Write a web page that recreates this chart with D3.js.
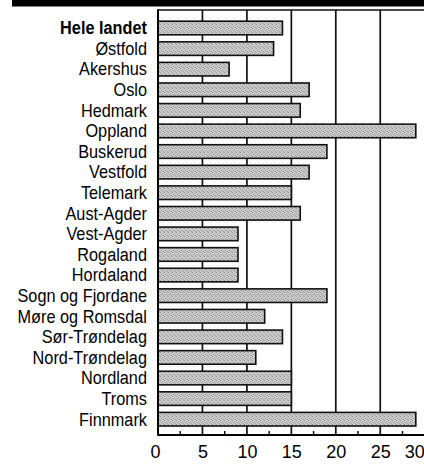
<!DOCTYPE html>
<html>
<head>
<meta charset="utf-8">
<script src="https://cdn.jsdelivr.net/npm/d3@7"></script>
<style>
  html, body { margin: 0; padding: 0; background: #fff; }
  svg { display: block; }
  text { font-family: "Liberation Sans", Arial, Helvetica, sans-serif; fill: #000; }
</style>
</head>
<body>
<div id="chart"></div>
<script>
const categories = ["Hele landet", "Østfold", "Akershus", "Oslo", "Hedmark", "Oppland",
  "Buskerud", "Vestfold", "Telemark", "Aust-Agder", "Vest-Agder", "Rogaland", "Hordaland",
  "Sogn og Fjordane", "Møre og Romsdal", "Sør-Trøndelag", "Nord-Trøndelag", "Nordland",
  "Troms", "Finnmark"];
const values = [14, 13, 8, 17, 16, 29, 19, 17, 15, 16, 9, 9, 9, 19, 12, 14, 11, 15, 15, 29];
const tickValues = [0, 5, 10, 15, 20, 25, 30];
const gridValues = [5, 10, 15, 20, 25];
const minorTicks = [2.5, 7.5, 12.5, 17.5, 22.5, 27.5];

const W = 424, H = 466;
const svg = d3.select("#chart").append("svg").attr("width", W).attr("height", H);

// mottled gray fill (printed screen look)
const defs = svg.append("defs");
const pat = defs.append("pattern").attr("id", "dither").attr("patternUnits", "userSpaceOnUse")
  .attr("width", 4).attr("height", 4);
pat.append("rect").attr("width", 4).attr("height", 4).attr("fill", "#cfcfcf");
[[0,0,"#8e8e8e"],[2,1,"#9c9c9c"],[1,2,"#929292"],[3,3,"#a0a0a0"],[2,3,"#b4b4b4"],[0,2,"#bcbcbc"],[3,0,"#b8b8b8"],[1,1,"#e2e2e2"]]
  .forEach(([px, py, c]) => pat.append("rect").attr("x", px).attr("y", py).attr("width", 1).attr("height", 1).attr("fill", c));

const x = d3.scaleLinear().domain([0, 30]).range([158, 424.7]);
const y = d3.scaleBand().domain(categories).range([17.7, 429.5]).paddingInner(0.34).paddingOuter(0.17);

const plotTop = 10, plotBottom = 435;

// top black band
svg.append("rect").attr("x", 12).attr("y", 0).attr("width", W - 12).attr("height", 6.5).attr("fill", "#000");

// gridlines
svg.append("g").selectAll("line").data(gridValues).join("line")
  .attr("x1", d => x(d)).attr("x2", d => x(d))
  .attr("y1", plotTop).attr("y2", plotBottom)
  .attr("stroke", "#111").attr("stroke-width", 1.7);

// top frame line
svg.append("line").attr("x1", x(0)).attr("x2", W).attr("y1", plotTop).attr("y2", plotTop)
  .attr("stroke", "#111").attr("stroke-width", 1.6);

// bars
svg.append("g").selectAll("rect").data(categories).join("rect")
  .attr("x", x(0))
  .attr("y", d => y(d))
  .attr("width", (d, i) => x(values[i]) - x(0))
  .attr("height", y.bandwidth())
  .attr("fill", "url(#dither)")
  .attr("stroke", "#111").attr("stroke-width", 1.6);

// left axis line & bottom axis line
svg.append("line").attr("x1", x(0)).attr("x2", x(0)).attr("y1", plotTop - 0.8).attr("y2", plotBottom + 0.8)
  .attr("stroke", "#000").attr("stroke-width", 2);
svg.append("line").attr("x1", x(0)).attr("x2", W).attr("y1", plotBottom).attr("y2", plotBottom)
  .attr("stroke", "#000").attr("stroke-width", 1.8);

// minor ticks
svg.append("g").selectAll("line").data(minorTicks).join("line")
  .attr("x1", d => x(d)).attr("x2", d => x(d))
  .attr("y1", plotBottom - 4).attr("y2", plotBottom)
  .attr("stroke", "#000").attr("stroke-width", 1.4);

// x tick labels via d3 axis
const xAxis = d3.axisBottom(x).tickValues(tickValues).tickSize(0).tickPadding(0).tickFormat(d3.format("d"));
const gx = svg.append("g").attr("transform", `translate(0,${plotBottom})`).call(xAxis);
gx.select(".domain").remove();
gx.selectAll("text")
  .attr("dy", null).attr("y", 23)
  .style("font-size", "18px")
  .attr("text-anchor", d => d === 30 ? "end" : "middle")
  .attr("dx", d => d === 30 ? -0.5 : (d === 0 ? -3 : 0));

// category labels via d3 axis
const yAxis = d3.axisLeft(y).tickSize(0).tickPadding(0);
const gy = svg.append("g").attr("transform", "translate(147,0)").call(yAxis);
gy.select(".domain").remove();
gy.selectAll("text")
  .attr("x", 0).attr("dy", null)
  .attr("text-anchor", "end")
  .style("font-size", "16.3px")
  .style("font-weight", d => d === "Hele landet" ? "bold" : "normal")
  .attr("transform", "scale(1,1.12)")
  .attr("y", 6.3 / 1.12);
</script>
</body>
</html>
